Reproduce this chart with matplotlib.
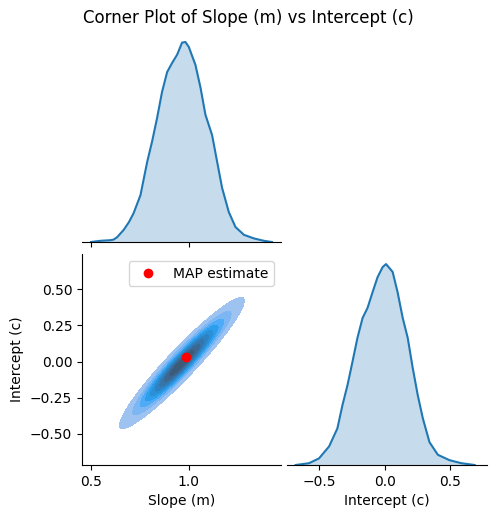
import numpy as np
import matplotlib
matplotlib.use("Agg")
import matplotlib.pyplot as plt
import matplotlib.colors as mcolors
from seaborn.external import husl

# marginal KDE of slope m (relative density)
m_grid = [0.502, 0.55, 0.60, 0.617, 0.635, 0.668, 0.695, 0.719, 0.754, 0.788,
          0.813, 0.839, 0.864, 0.890, 0.915, 0.941, 0.966, 0.983, 1.000, 1.034,
          1.060, 1.085, 1.119, 1.145, 1.170, 1.204, 1.238, 1.281, 1.332, 1.383, 1.424]
m_density = [0.00, 0.02, 0.03, 0.04, 0.08, 0.20, 0.33, 0.48, 0.78, 1.33,
             1.67, 2.07, 2.50, 2.83, 2.98, 3.12, 3.32, 3.33, 3.25, 2.95,
             2.57, 2.12, 1.78, 1.33, 0.90, 0.50, 0.25, 0.12, 0.06, 0.02, 0.00]

# marginal KDE of intercept c (bottom-right panel)
c_grid = [-0.678, -0.576, -0.500, -0.423, -0.360, -0.321, -0.283, -0.245, -0.207,
          -0.168, -0.130, -0.092, -0.054, -0.015, 0.011, 0.061, 0.099, 0.138,
          0.176, 0.214, 0.252, 0.291, 0.342, 0.406, 0.495, 0.585, 0.686]
c_density = [0.00, 0.03, 0.11, 0.31, 0.61, 1.00, 1.33, 1.72, 2.12,
             2.45, 2.62, 2.88, 3.13, 3.30, 3.35, 3.22, 2.88, 2.45,
             2.12, 1.62, 1.17, 0.78, 0.38, 0.17, 0.08, 0.03, 0.00]

# joint posterior summary (centre, spreads, correlation)
joint_mean = [0.965, -0.01]
joint_sd = [0.13, 0.185]
joint_rho = 0.95

# MAP estimate
map_m = 0.984
map_c = 0.028

m_lim = (0.456, 1.47)
c_lim = (-0.714, 0.742)
c_diag_lim = (-0.744, 0.78)

blue = "#1f77b4"


def cmap_from_color(color):
    r, g, b, _ = mcolors.to_rgba(color)
    h, s, _ = husl.rgb_to_husl(r, g, b)
    xx = np.linspace(-1, 1, int(1.15 * 256))[:256]
    ramp = np.zeros((256, 3))
    ramp[:, 0] = h
    ramp[:, 1] = s * np.cos(xx)
    ramp[:, 2] = np.linspace(35, 80, 256)
    cols = np.clip([husl.husl_to_rgb(*hsl) for hsl in ramp], 0, 1)
    return mcolors.ListedColormap(cols[::-1])


fig = plt.figure(figsize=(4.96, 5.18), dpi=100)
ax_m = fig.add_axes([0.1653, 0.5328, 0.4012, 0.4054])
ax_mc = fig.add_axes([0.1653, 0.1023, 0.4012, 0.4073])
ax_c = fig.add_axes([0.5786, 0.1023, 0.4032, 0.4073])

# top-left diagonal
ax_m.plot(m_grid, m_density, color=blue, lw=1.5)
ax_m.fill_between(m_grid, m_density, color=blue, alpha=0.25, lw=0)
ax_m.set_xlim(m_lim)
ax_m.set_ylim(0, max(m_density) * 1.05)
ax_m.set_xticks([0.5, 1.0])
ax_m.set_xticklabels([])
ax_m.yaxis.set_visible(False)
for s in ["left", "top", "right"]:
    ax_m.spines[s].set_visible(False)

# joint density
mm, cc = np.meshgrid(np.linspace(m_lim[0], m_lim[1], 200),
                     np.linspace(c_lim[0], c_lim[1], 200))
zm = (mm - joint_mean[0]) / joint_sd[0]
zc = (cc - joint_mean[1]) / joint_sd[1]
dens = np.exp(-(zm**2 - 2 * joint_rho * zm * zc + zc**2) / (2 * (1 - joint_rho**2)))
vals = np.sort(dens.ravel())[::-1]
cum = np.cumsum(vals) / vals.sum()
iso = np.linspace(0.05, 1, 10)
levels = np.take(vals, np.searchsorted(cum, 1 - iso), mode="clip")
ax_mc.contourf(mm, cc, dens, levels=levels, cmap=cmap_from_color(blue))
ax_mc.plot(map_m, map_c, "o", color="red", label="MAP estimate")
ax_mc.legend(loc="upper right")
ax_mc.set_xlim(m_lim)
ax_mc.set_ylim(c_lim)
ax_mc.set_xticks([0.5, 1.0])
ax_mc.set_yticks([-0.5, -0.25, 0.0, 0.25, 0.5])
ax_mc.set_xlabel("Slope (m)")
ax_mc.set_ylabel("Intercept (c)")
for s in ["top", "right"]:
    ax_mc.spines[s].set_visible(False)

# bottom-right diagonal
ax_c.plot(c_grid, c_density, color=blue, lw=1.5)
ax_c.fill_between(c_grid, c_density, color=blue, alpha=0.25, lw=0)
ax_c.set_xlim(c_diag_lim)
ax_c.set_ylim(0, max(c_density) * 1.05)
ax_c.set_xticks([-0.5, 0.0, 0.5])
ax_c.set_xlabel("Intercept (c)")
ax_c.yaxis.set_visible(False)
for s in ["left", "top", "right"]:
    ax_c.spines[s].set_visible(False)

fig.suptitle("Corner Plot of Slope (m) vs Intercept (c)", y=0.9655, va="center", fontsize=12)

fig.savefig("out.png", dpi=100)
